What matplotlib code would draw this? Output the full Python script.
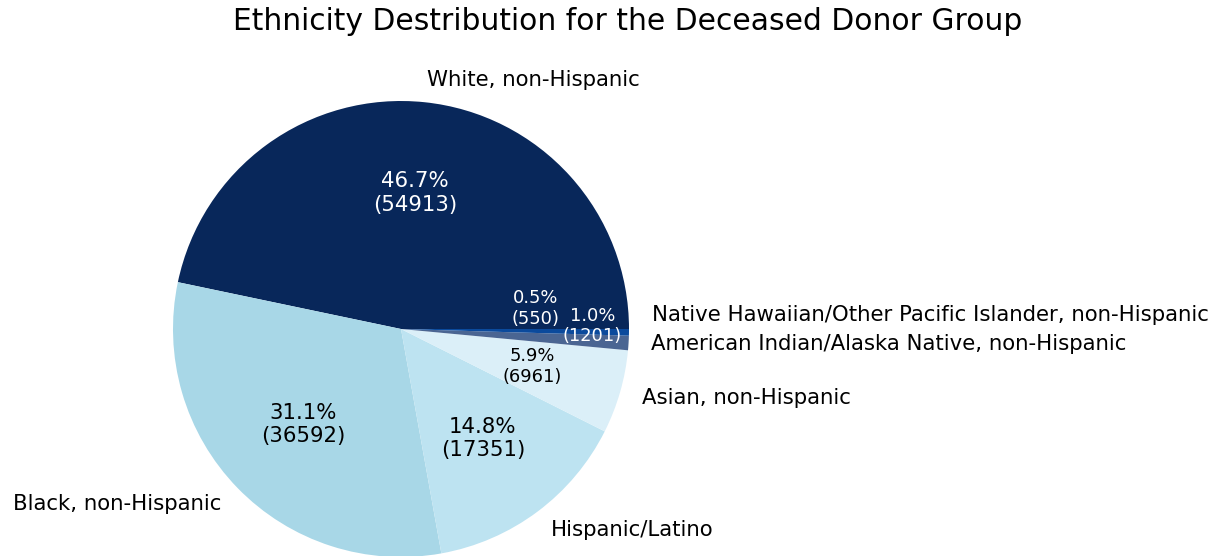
"""Ethnicity pie chart for the deceased donor group."""

import matplotlib
matplotlib.use("Agg")
import matplotlib.pyplot as plt

groups = [
    "White, non-Hispanic",
    "Black, non-Hispanic",
    "Hispanic/Latino",
    "Asian, non-Hispanic",
    "American Indian/Alaska Native, non-Hispanic",
    "Native Hawaiian/Other Pacific Islander, non-Hispanic",
]
counts = [54913, 36592, 17351, 6961, 1201, 550]
colors = ["#08275a", "#a8d7e7", "#bde3f1", "#dbeff8", "#4a6592", "#0b4a9c"]

total = sum(counts)


def fmt(pct):
    n = int(round(pct * total / 100.0))
    return f"{pct:.1f}%\n({n})"


fig = plt.figure(figsize=(12.27, 5.56), dpi=100)
ax = fig.add_axes([116 / 1227, -58 / 556, 570 / 1227, 570 / 556])

wedges, texts, autotexts = ax.pie(
    counts, labels=groups, colors=colors, autopct=fmt, startangle=0,
    pctdistance=0.6, labeldistance=1.1, textprops={"fontsize": 15.3},
)
ax.set_xlim(-1.25, 1.25)
ax.set_ylim(-1.25, 1.25)

# white text on the dark slices, smaller text on the thin ones
for i in (0, 4, 5):
    autotexts[i].set_color("white")
for i in (3, 4, 5):
    autotexts[i].set_fontsize(12.9)

# spread out the crowded labels at the right edge
autotexts[5].set_position((0.59, 0.09))
autotexts[4].set_position((0.84, 0.013))
texts[5].set_position((texts[5].get_position()[0], 0.062))

fig.text(627.5 / 1227, 1 - 22 / 556, "Ethnicity Destribution for the Deceased Donor Group",
         ha="center", va="center", fontsize=21.4)

fig.savefig("out.png", dpi=100)
